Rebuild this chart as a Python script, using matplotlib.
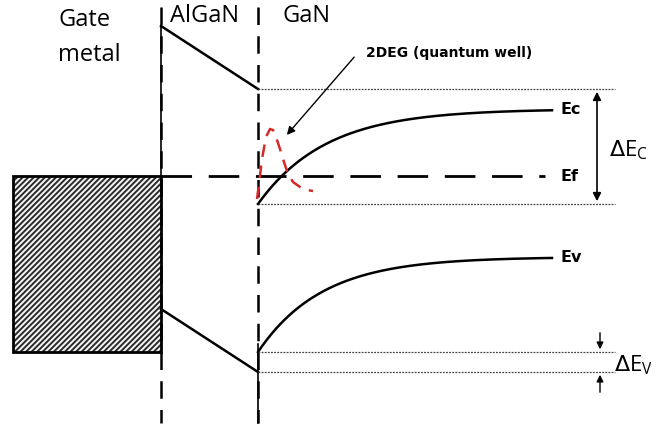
import numpy as np
import matplotlib
matplotlib.use('Agg')
import matplotlib.pyplot as plt
from matplotlib.patches import Rectangle

# geometry of the band diagram, in picture units (x right, y down)
x_metal = [13, 161]
x_iface = 258
x_end = 552
y_fermi = 177
y_metal_bottom = 353

# AlGaN bands: (x, y) at gate side and at GaN side
algan_ec = [(161, 27), (258, 90)]
algan_ev = [(161, 310), (258, 373)]

# GaN bands: start level at interface, flat level far away, decay length
gan_ec = (205, 110, 68)
gan_ev = (353, 258, 64)

# 2DEG wavefunction sketch
deg_x = [257, 259, 262, 266, 270, 273, 276, 280, 284, 288, 293, 300, 307, 313]
deg_y = [200, 185, 160, 138, 130, 131, 138, 150, 163, 175, 183, 188, 191, 192]

# offset reference lines
dot_levels = [90, 205, 353, 373]
dot_x = [258, 615]

labels = {'Ec': 110, 'Ef': 177, 'Ev': 258}

plt.rcParams['hatch.linewidth'] = 1.4
plt.rcParams['hatch.color'] = '#2a2a2a'

fig = plt.figure(figsize=(6.58, 4.27), dpi=100)
ax = fig.add_axes([0, 0, 1, 1])
ax.set_xlim(0, 658)
ax.set_ylim(427, 0)
ax.axis('off')

# gate metal block
ax.add_patch(Rectangle((x_metal[0], y_fermi), x_metal[1] - x_metal[0], y_metal_bottom - y_fermi,
                       facecolor='#f4f4f4', edgecolor='#2a2a2a', hatch='//////', lw=0))
ax.add_patch(Rectangle((x_metal[0], y_fermi), x_metal[1] - x_metal[0], y_metal_bottom - y_fermi,
                       fill=False, edgecolor='black', lw=2))

# layer boundaries
for xb in [x_metal[1], x_iface]:
    ax.plot([xb, xb], [8, 424], color='black', lw=1.8, dashes=(7, 4.5))
ax.plot([x_metal[1]] * 2, [algan_ec[0][1], y_fermi], color='black', lw=1.2)
ax.plot([x_iface] * 2, [dot_levels[2] - 8, 424], color='black', lw=1.2)

# AlGaN bands
for band in [algan_ec, algan_ev]:
    ax.plot([p[0] for p in band], [p[1] for p in band], color='black', lw=1.8)

# GaN bands
xs = np.linspace(x_iface, x_end, 200)
for y0, yinf, L in [gan_ec, gan_ev]:
    ax.plot(xs, yinf + (y0 - yinf) * np.exp(-(xs - x_iface) / L), color='black', lw=1.8)

# Fermi level
ax.plot([x_metal[1], 545], [y_fermi, y_fermi], color='black', lw=2, dashes=(11, 6))

# dotted reference lines
for yl in dot_levels:
    ax.plot(dot_x, [yl, yl], color='#444444', lw=0.9, ls=(0, (1.5, 1)))

# 2DEG
ax.plot(deg_x, deg_y, color='#d42a2a', lw=1.8, dashes=(5, 3.5))
ax.annotate('', xy=(285, 138), xytext=(356, 56),
            arrowprops=dict(arrowstyle='-|>', color='black', lw=1, mutation_scale=12))
ax.text(366, 53, '2DEG (quantum well)', fontsize=10, fontweight='bold',
        family='DejaVu Sans', va='center', ha='left')

# delta Ec
ax.annotate('', xy=(597, dot_levels[0]), xytext=(597, dot_levels[1]),
            arrowprops=dict(arrowstyle='<|-|>', color='black', lw=1.2, mutation_scale=12))
ax.text(609, 150, r'$\Delta\mathregular{E_C}$', fontsize=16, va='center', ha='left',
        family='Open Sans')

# delta Ev
ax.annotate('', xy=(600, dot_levels[2]), xytext=(600, 331),
            arrowprops=dict(arrowstyle='-|>', color='black', lw=1, mutation_scale=10))
ax.annotate('', xy=(600, dot_levels[3]), xytext=(600, 396),
            arrowprops=dict(arrowstyle='-|>', color='black', lw=1, mutation_scale=10))
ax.text(614, 365, r'$\Delta\mathregular{E_V}$', fontsize=16, va='center', ha='left',
        family='Open Sans')

# band labels
for name, yl in labels.items():
    ax.text(560, yl, name, fontsize=11.5, fontweight='bold', va='center', ha='left',
            family=['Liberation Sans Narrow', 'DejaVu Sans'])

# layer names
ax.text(58, 20, 'Gate', fontsize=17, va='center', ha='left', family='Open Sans')
ax.text(58, 55, 'metal', fontsize=17, va='center', ha='left', family='Open Sans')
ax.text(170, 16, 'AlGaN', fontsize=17, va='center', ha='left', family='Open Sans')
ax.text(283, 16, 'GaN', fontsize=17, va='center', ha='left', family='Open Sans')

fig.savefig('out.png', dpi=100)
